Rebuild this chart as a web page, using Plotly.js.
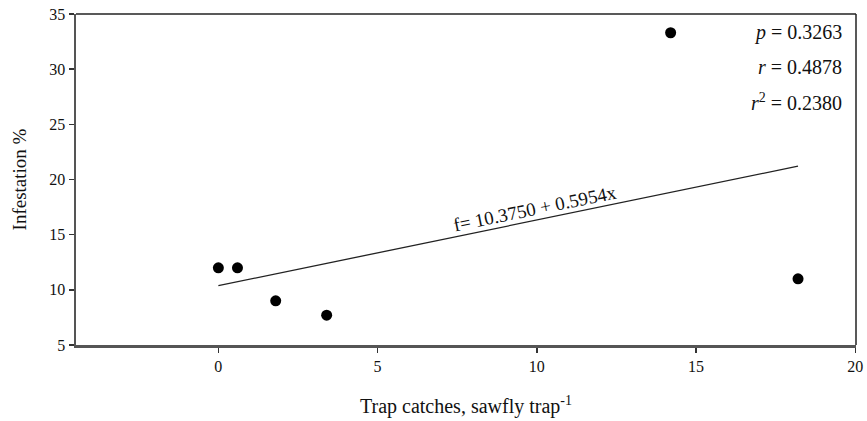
<!DOCTYPE html>
<html>
<head>
<meta charset="utf-8">
<script src="https://cdn.plot.ly/plotly-3.0.1.min.js"></script>
<style>html,body{margin:0;padding:0;background:#fff;}#chart{width:867px;height:421px;}</style>
</head>
<body>
<div id="chart"></div>
<script>
const trapCatches = [0, 0.6, 1.8, 3.4, 14.2, 18.2];
const infestation = [12, 12, 9, 7.7, 33.3, 11];
const fitIntercept = 10.375;
const fitSlope = 0.5954;
const fitXRange = [0, 18.2];
const statsLines = ['<i>p</i> = 0.3263', '<i>r</i> = 0.4878', '<i>r</i><sup>2</sup> = 0.2380'];
const equationText = 'f= 10.3750 + 0.5954x';

const fitY = fitXRange.map(x => fitIntercept + fitSlope * x);
const font = {family: 'Liberation Serif, Times New Roman, serif', color: '#111'};

const data = [
  {x: fitXRange, y: fitY, mode: 'lines', line: {color: '#222', width: 1.3}, hoverinfo: 'skip'},
  {x: trapCatches, y: infestation, mode: 'markers', marker: {color: '#000', size: 11}}
];

const layout = {
  width: 867, height: 421,
  margin: {l: 76, r: 11, t: 14, b: 76},
  paper_bgcolor: '#fff', plot_bgcolor: '#fff',
  showlegend: false,
  font: Object.assign({size: 16}, font),
  xaxis: {
    range: [-4.47, 20.02], tick0: 0, dtick: 5, tickmode: 'linear',
    showgrid: false, zeroline: false,
    showline: true, linecolor: '#555', linewidth: 2.5,
    ticks: 'outside', ticklen: 5, tickwidth: 1.5, tickcolor: '#333',
    tickfont: Object.assign({size: 16}, font),
    title: {text: 'Trap catches, sawfly trap<sup>-1</sup>', font: Object.assign({size: 20}, font), standoff: 26}
  },
  yaxis: {
    range: [5, 35], tick0: 5, dtick: 5, tickmode: 'linear',
    showgrid: false, zeroline: false,
    showline: true, linecolor: '#555', linewidth: 2.5,
    ticks: 'outside', ticklen: 5, tickwidth: 1.5, tickcolor: '#333',
    tickfont: Object.assign({size: 16}, font),
    title: {text: 'Infestation %', font: Object.assign({size: 19}, font), standoff: 18}
  },
  shapes: [
    {type: 'line', xref: 'paper', yref: 'paper', x0: 0, x1: 1, y0: 1, y1: 1, line: {color: '#222', width: 1.5}},
    {type: 'line', xref: 'paper', yref: 'paper', x0: 1, x1: 1, y0: 0, y1: 1, line: {color: '#222', width: 1.5}}
  ],
  annotations: [
    {x: 9.95, y: 17.35, xref: 'x', yref: 'y', text: equationText, showarrow: false, textangle: -11.6,
     font: Object.assign({size: 19}, font)},
    ...statsLines.map((t, i) => ({
      xref: 'paper', yref: 'paper', x: 0.985, y: 0.945 - i * 0.105, xanchor: 'right', yanchor: 'middle',
      text: t, showarrow: false, font: Object.assign({size: 20}, font)
    }))
  ]
};

Plotly.newPlot('chart', data, layout, {displayModeBar: false, staticPlot: true});
</script>
</body>
</html>
